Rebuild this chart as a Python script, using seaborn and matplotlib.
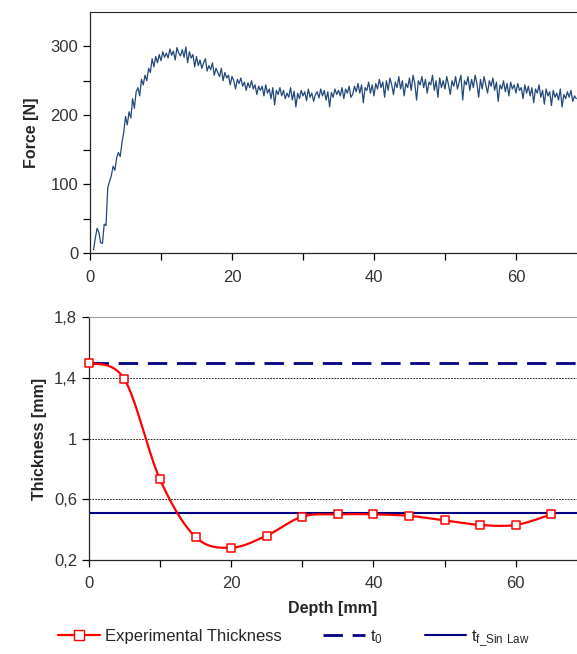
"""
Force and thickness vs depth - two stacked panels
"""

import numpy as np
import matplotlib
matplotlib.use('Agg')
import matplotlib.pyplot as plt
from matplotlib.lines import Line2D
from matplotlib.ticker import FixedLocator, FuncFormatter
import seaborn as sns

sns.set_style('ticks')
plt.rcParams['font.family'] = ['Liberation Sans', 'DejaVu Sans']
plt.rcParams['mathtext.default'] = 'regular'
plt.rcParams['font.size'] = 10

# --- top panel: force signal (0.25 mm sampling) ---
force_depth = np.arange(0.5, 68.6, 0.25)
force = [
    5, 22,
    36, 30, 15, 14,   42, 40, 95, 104,   112, 126, 120, 138,
    146, 140, 160, 175,   198, 186, 205, 196,   224, 210, 234, 240,
    228, 252, 244, 258,   250, 268, 262, 282,   270, 285, 276, 288,
    279, 292, 284, 290,   283, 296, 287, 293,   280, 298, 290, 286,
    295, 284, 299, 276,   292, 283, 288, 270,   285, 272, 280, 268,
    276, 282, 264, 272,   266, 276, 258, 268,   262, 256, 268, 250,
    262, 254, 258, 244,   256, 250, 238, 252,   246, 254, 242, 248,
    236, 247, 240, 250,   238, 244, 230, 242,   236, 242, 228, 244,
    232, 238, 224, 240,   215, 236, 230, 240,   228, 236, 224, 232,
    226, 240, 222, 235,   212, 232, 224, 236,   228, 234, 221, 238,
    226, 232, 220, 230,   234, 225, 238, 228,   236, 222, 234, 212,
    233, 226, 238, 230,   236, 228, 240, 224,   238, 232, 242, 226,
    230, 242, 234, 246,   232, 244, 218, 240,   236, 248, 232, 244,
    228, 246, 238, 252,   240, 248, 226, 250,   236, 254, 244, 230,
    248, 240, 256, 238,   250, 228, 246, 240,   254, 236, 258, 246,
    222, 250, 244, 256,   240, 252, 232, 248,   244, 258, 236, 250,
    226, 254, 240, 250,   238, 256, 244, 230,   250, 242, 256, 238,
    248, 258, 222, 250,   244, 256, 236, 252,   240, 258, 246, 226,
    252, 238, 256, 244,   232, 250, 242, 254,   236, 248, 220, 244,
    238, 250, 234, 246,   228, 248, 238, 244,   232, 246, 236, 240,
    224, 244, 232, 242,   228, 240, 218, 238,   232, 244, 226, 236,
    216, 238, 228, 234,   214, 236, 226, 232,   222, 238, 212, 230,
    224, 234, 226, 236,
    220, 228, 224,
]

# --- bottom panel: thickness measurements ---
thick_depth = [0, 5, 10, 15, 20, 25, 30, 35, 40, 45, 50, 55, 60, 65]
thickness = [1.50, 1.39, 0.73, 0.35, 0.28, 0.36, 0.485, 0.50, 0.50, 0.49,
             0.46, 0.43, 0.43, 0.50]
t0 = 1.50
tf_sin_law = 0.51


def smooth_curve(xs, ys, n=25):
    """Excel-like smoothed line (Catmull-Rom / Bezier) through the points"""
    p = np.column_stack([xs, ys]).astype(float)
    out = []
    for i in range(len(p) - 1):
        p0 = p[i - 1] if i > 0 else p[i]
        p1, p2 = p[i], p[i + 1]
        p3 = p[i + 2] if i + 2 < len(p) else p[i + 1]
        c1 = p1 + (p2 - p0) / 6
        c2 = p2 - (p3 - p1) / 6
        t = np.linspace(0, 1, n)[:, None]
        seg = ((1 - t) ** 3) * p1 + 3 * ((1 - t) ** 2) * t * c1 \
            + 3 * (1 - t) * t ** 2 * c2 + t ** 3 * p2
        out.append(seg if i == 0 else seg[1:])
    out = np.vstack(out)
    return out[:, 0], out[:, 1]


fig = plt.figure(figsize=(5.77, 6.54), dpi=100)
ax1 = fig.add_axes([0.156, 0.613, 0.844, 0.369])
ax2 = fig.add_axes([0.154, 0.144, 0.846, 0.371])

# top panel
sns.lineplot(x=force_depth, y=force, ax=ax1, color='#23487a', lw=0.9,
             sort=False, estimator=None)
ax1.set_xlim(0, 68.6)
ax1.set_ylim(0, 350)
ax1.xaxis.set_major_locator(FixedLocator([0, 20, 40, 60]))
ax1.xaxis.set_minor_locator(FixedLocator([10, 30, 50]))
ax1.yaxis.set_major_locator(FixedLocator([0, 100, 200, 300]))
ax1.yaxis.set_minor_locator(FixedLocator([50, 150, 250]))
ax1.set_ylabel('Force [N]', fontsize=11.5, fontweight='bold', labelpad=8)
ax1.spines['right'].set_visible(False)

# bottom panel
sx, sy = smooth_curve(thick_depth, thickness)
ax2.axhline(t0, color='#000080', lw=2, ls=(0, (7, 3.5)), zorder=2)
ax2.axhline(tf_sin_law, color='#000080', lw=1.5, zorder=2)
ax2.plot(sx, sy, color='#ff0000', lw=1.6, zorder=3)
sns.scatterplot(x=thick_depth, y=thickness, ax=ax2, marker='s', s=38,
                facecolor='white', edgecolor='#ff0000', linewidth=1.1,
                zorder=4, clip_on=False)
ax2.set_xlim(0, 68.6)
ax2.set_ylim(0.2, 1.8)
ax2.xaxis.set_major_locator(FixedLocator([0, 20, 40, 60]))
ax2.xaxis.set_minor_locator(FixedLocator([10, 30, 50]))
ax2.yaxis.set_major_locator(FixedLocator([0.2, 0.6, 1.0, 1.4, 1.8]))
ax2.yaxis.set_major_formatter(FuncFormatter(
    lambda v, _: f'{v:g}'.replace('.', ',')))
for yv in [0.6, 1.0, 1.4]:
    ax2.axhline(yv, color='black', lw=0.6, ls=(0, (2, 1.5)), zorder=1)
ax2.set_ylabel('Thickness [mm]', fontsize=11.5, fontweight='bold', labelpad=5)
ax2.set_xlabel('Depth [mm]', fontsize=11.5, fontweight='bold', labelpad=7)
ax2.spines['right'].set_visible(False)
ax2.spines['top'].set_color('#a0a0a0')

for ax in (ax1, ax2):
    ax.tick_params(which='both', direction='out', length=5, width=0.9,
                   labelsize=12, colors='black', labelcolor='#333333')
    ax.tick_params(axis='x', pad=7)
    for s in ('left', 'bottom'):
        ax.spines[s].set_linewidth(0.9)
    ax.grid(False)

handles = [
    Line2D([], [], color='#ff0000', lw=1.6, marker='s', markersize=6.5,
           markerfacecolor='white', markeredgecolor='#ff0000'),
    Line2D([], [], color='#000080', lw=2, ls=(0, (7, 3.5))),
    Line2D([], [], color='#000080', lw=1.5),
]
labels = ['Experimental Thickness', 't$_0$', r't$_{f\_Sin\ Law}$']
fig.legend(handles, labels, loc='center left', bbox_to_anchor=(0.075, 0.024),
           ncol=3, frameon=False, fontsize=12, handlelength=2.5,
           columnspacing=2.5, handletextpad=0.3)

plt.savefig('out.png', dpi=100)
plt.close()
